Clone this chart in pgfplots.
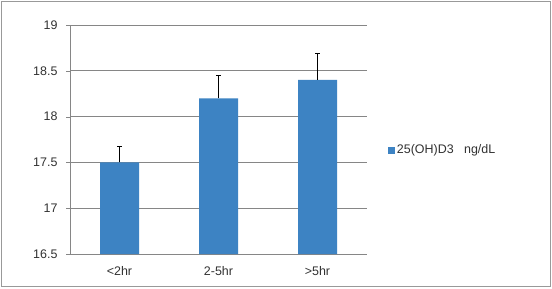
\documentclass[border=0pt]{standalone}
\usepackage{pgfplots}
\pgfplotsset{compat=1.18}
\usepackage{fontspec}
\setmainfont{Liberation Sans}
\definecolor{barblue}{RGB}{61,131,195}
\definecolor{gridgray}{RGB}{134,134,134}
\definecolor{txt}{RGB}{50,50,50}
\begin{document}
\begin{tikzpicture}[x=1bp,y=1bp]
\fill[white] (0,0) rectangle (552,288);
\draw[gray!80, line width=1.2bp] (1.2,1.2) rectangle (550.8,286.8);
\begin{axis}[
  at={(70bp,34bp)}, anchor=south west,
  scale only axis, width=297bp, height=229bp,
  xmin=-0.5, xmax=2.5, ymin=16.5, ymax=19,
  axis lines=left, axis line style={-, gridgray},
  xtick={0,1,2}, xticklabels={<2hr, 2-5hr, >5hr},
  major x tick style={draw=none},
  extra x ticks={-0.5,0.5,1.5,2.5}, extra x tick labels={},
  extra x tick style={tick style={draw=gridgray}, major tick length=4bp, tick align=outside, grid=none},
  ytick={16.5,17,17.5,18,18.5,19},
  yticklabels={16.5,17,17.5,18,18.5,19},
  ymajorgrids, grid style={gridgray, line width=0.6bp},
  y tick style={draw=gridgray}, major tick length=4bp, tick align=outside,
  tick label style={font=\fontsize{12.5}{14}\selectfont, text=txt},
  yticklabel style={xshift=-5bp},
  xticklabel style={yshift=-5bp},
  legend style={at={(1.07,0.454)}, anchor=west, draw=none, fill=none,
    font=\fontsize{12.5}{14}\selectfont, text=txt, inner sep=0pt},
  legend image code/.code={\fill[barblue] (0bp,-3.5bp) rectangle (7bp,3.5bp);},
  clip=false,
]
\addplot[ybar, bar width=39bp, fill=barblue, draw=none,
  error bars/.cd, y dir=plus, y explicit,
  error bar style={black, line width=0.8bp},
  error mark options={black, line width=0.8bp, mark size=2.5bp, rotate=90}]
  coordinates {(0,17.5) +- (0,0.17) (1,18.2) +- (0,0.25) (2,18.4) +- (0,0.29)};
\addlegendentry{25(OH)D3\ \ \ ng/dL}
\end{axis}
\end{tikzpicture}
\end{document}
